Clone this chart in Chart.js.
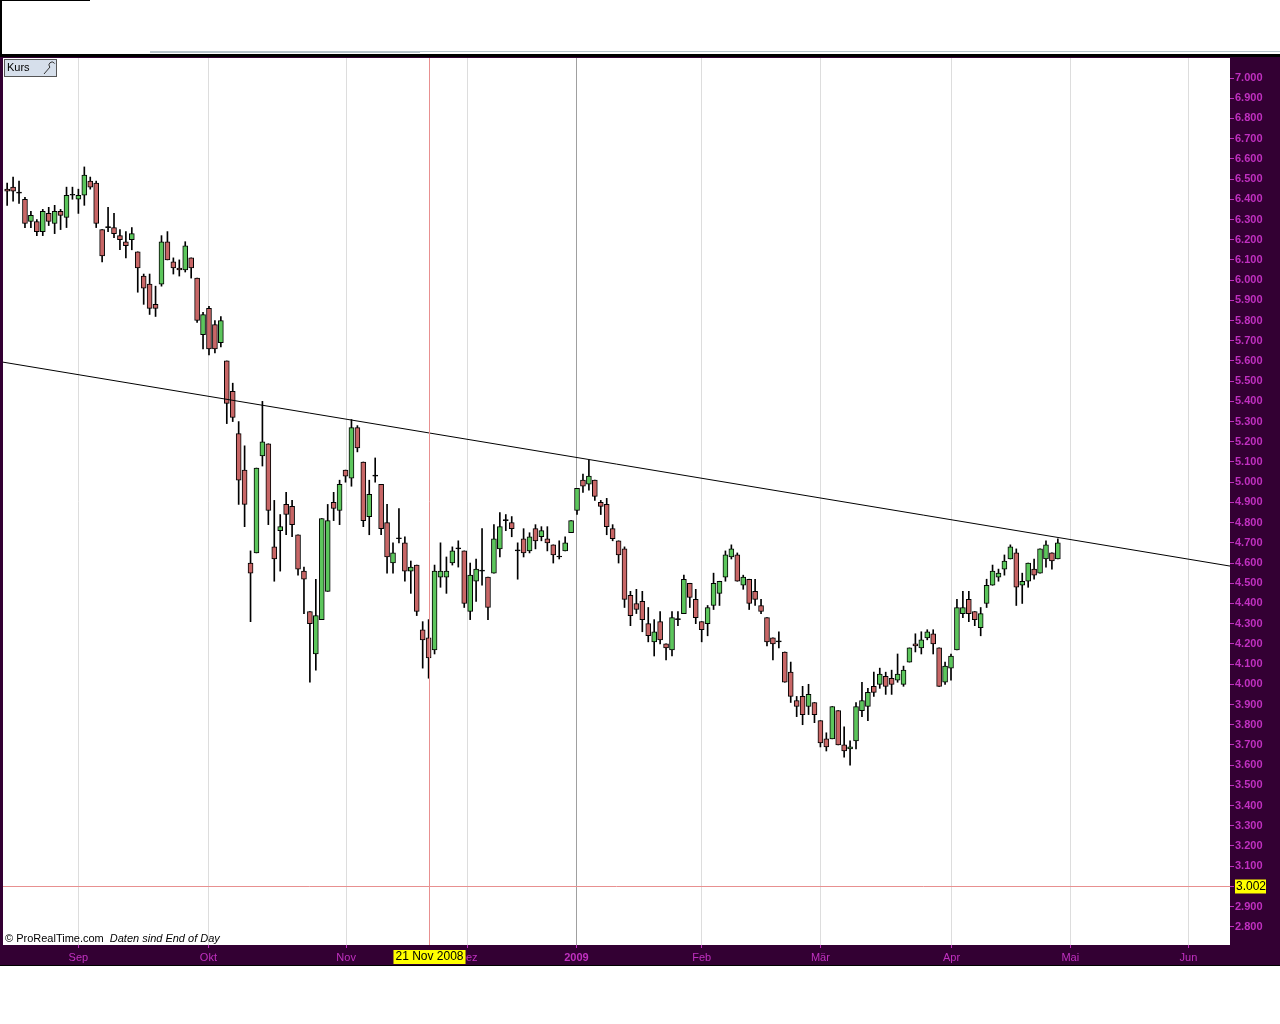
<!DOCTYPE html>
<html lang="de">
<head>
  <meta charset="UTF-8" />
  <title>Kurs</title>
  <script src="https://cdn.jsdelivr.net/npm/chart.js"></script>
  <style>
    html, body { margin: 0; padding: 0; background: #fff; }
    #wrap { position: relative; width: 1280px; height: 1024px; }
    canvas { display: block; }
  </style>
</head>
<body>
  <div id="wrap"><canvas id="kursChart" width="1280" height="1024"></canvas></div>

  <script>
    // daily OHLC (Sep 2008 - Apr 2009)
    const opens = [6.45,6.46,6.43,6.40,6.29,6.29,6.24,6.33,6.28,6.34,6.31,6.42,6.40,6.42,6.49,6.48,6.25,6.26,6.26,6.22,
      6.19,6.20,6.14,6.02,5.98,5.88,5.98,6.19,6.09,6.06,6.05,6.11,6.01,5.73,5.86,5.78,5.69,5.60,5.45,5.24,
      5.06,4.60,4.65,5.13,5.19,4.68,4.76,4.89,4.88,4.74,4.56,4.36,4.15,4.32,4.46,4.90,4.86,5.06,5.02,5.27,
      5.10,4.83,5.03,4.99,4.80,4.60,4.72,4.70,4.56,4.59,4.27,4.23,4.17,4.53,4.53,4.60,4.67,4.66,4.36,4.51,
      4.56,4.53,4.55,4.67,4.81,4.80,4.66,4.72,4.66,4.77,4.73,4.72,4.69,4.63,4.66,4.75,4.86,5.01,4.99,5.01,
      4.90,4.89,4.77,4.71,4.67,4.44,4.40,4.41,4.30,4.21,4.31,4.20,4.17,4.32,4.35,4.50,4.42,4.31,4.30,4.39,
      4.45,4.53,4.63,4.64,4.49,4.52,4.46,4.39,4.33,4.23,4.21,4.16,4.06,3.92,3.94,3.89,3.91,3.82,3.73,3.73,
      3.87,3.70,3.68,3.72,3.87,3.89,3.99,4.00,4.04,4.03,4.02,4.00,4.11,4.20,4.18,4.23,4.25,4.18,4.01,4.08,
      4.17,4.35,4.42,4.36,4.28,4.40,4.49,4.53,4.57,4.62,4.65,4.49,4.51,4.57,4.55,4.62,4.65,4.62];
    const highs = [6.48,6.51,6.49,6.41,6.34,6.30,6.35,6.36,6.37,6.35,6.46,6.46,6.45,6.56,6.51,6.49,6.25,6.36,6.33,6.25,
      6.24,6.26,6.14,6.03,6.03,5.97,6.22,6.24,6.11,6.10,6.19,6.11,6.01,5.84,5.87,5.80,5.82,5.60,5.49,5.30,
      5.18,4.66,5.07,5.40,5.19,4.91,4.84,4.95,4.91,4.74,4.58,4.36,4.52,4.82,4.89,4.95,5.01,5.06,5.31,5.28,
      5.10,5.01,5.12,4.99,4.89,4.70,4.87,4.73,4.61,4.59,4.31,4.32,4.59,4.70,4.63,4.68,4.71,4.66,4.60,4.62,
      4.77,4.53,4.79,4.85,4.84,4.83,4.70,4.77,4.75,4.79,4.78,4.78,4.69,4.71,4.73,4.81,4.97,5.04,5.11,5.01,
      4.91,4.92,4.79,4.71,4.68,4.46,4.47,4.46,4.38,4.32,4.36,4.20,4.36,4.36,4.54,4.50,4.47,4.31,4.39,4.55,
      4.51,4.66,4.69,4.65,4.54,4.52,4.52,4.42,4.33,4.23,4.26,4.16,4.11,3.94,3.99,4.00,3.91,3.82,3.76,3.89,
      3.87,3.79,3.72,3.91,4.01,3.98,4.06,4.08,4.06,4.07,4.15,4.09,4.18,4.25,4.26,4.27,4.27,4.18,4.11,4.15,
      4.42,4.46,4.46,4.36,4.38,4.52,4.59,4.57,4.64,4.69,4.67,4.55,4.60,4.62,4.67,4.71,4.65,4.72];
    const lows = [6.37,6.39,6.38,6.26,6.26,6.22,6.22,6.27,6.23,6.25,6.26,6.40,6.33,6.37,6.45,6.26,6.09,6.24,6.21,6.15,
      6.11,6.15,5.94,5.88,5.83,5.82,5.97,6.10,6.03,6.02,6.04,6.01,5.79,5.66,5.63,5.64,5.67,5.29,5.30,4.89,
      4.78,4.31,4.65,5.08,4.79,4.51,4.56,4.74,4.73,4.54,4.35,4.01,4.07,4.32,4.46,4.81,4.79,5.00,4.98,5.15,
      4.78,4.74,5.00,4.74,4.55,4.55,4.70,4.51,4.45,4.34,4.08,4.03,4.15,4.48,4.45,4.59,4.58,4.38,4.32,4.41,
      4.49,4.32,4.55,4.63,4.76,4.73,4.52,4.63,4.65,4.67,4.71,4.66,4.60,4.62,4.66,4.75,4.84,4.95,4.96,4.91,
      4.84,4.74,4.71,4.60,4.38,4.29,4.35,4.26,4.21,4.14,4.20,4.12,4.14,4.29,4.35,4.38,4.30,4.21,4.24,4.37,
      4.39,4.51,4.62,4.51,4.47,4.37,4.39,4.35,4.19,4.12,4.18,4.01,3.91,3.84,3.80,3.85,3.81,3.69,3.67,3.73,
      3.70,3.64,3.60,3.68,3.84,3.82,3.94,3.98,3.95,3.95,4.01,3.99,4.11,4.16,4.15,4.22,4.15,3.99,4.00,4.02,
      4.17,4.33,4.31,4.29,4.24,4.38,4.49,4.51,4.54,4.62,4.39,4.40,4.48,4.52,4.55,4.58,4.57,4.62];
    const closes = [6.44,6.44,6.43,6.28,6.32,6.24,6.34,6.29,6.34,6.32,6.42,6.42,6.42,6.52,6.46,6.28,6.12,6.26,6.23,6.20,
      6.17,6.23,6.06,5.96,5.86,5.86,6.19,6.10,6.06,6.05,6.17,6.06,5.80,5.83,5.66,5.66,5.80,5.39,5.32,5.01,
      4.89,4.55,5.07,5.20,4.86,4.62,4.78,4.84,4.79,4.57,4.52,4.30,4.34,4.82,4.81,4.87,4.99,5.03,5.27,5.17,
      4.81,4.94,5.03,4.77,4.63,4.65,4.72,4.56,4.58,4.36,4.22,4.13,4.56,4.56,4.56,4.66,4.67,4.40,4.54,4.57,
      4.56,4.38,4.72,4.78,4.81,4.77,4.66,4.65,4.73,4.71,4.76,4.70,4.64,4.63,4.70,4.81,4.97,4.98,5.03,4.93,
      4.88,4.78,4.72,4.64,4.42,4.34,4.37,4.32,4.24,4.26,4.22,4.18,4.33,4.32,4.52,4.43,4.33,4.27,4.38,4.50,
      4.51,4.64,4.67,4.51,4.53,4.40,4.42,4.36,4.21,4.20,4.21,4.01,3.94,3.89,3.85,3.95,3.85,3.71,3.69,3.89,
      3.70,3.67,3.69,3.89,3.92,3.96,3.96,4.05,3.99,4.00,4.05,4.07,4.18,4.19,4.22,4.26,4.20,3.99,4.09,4.14,
      4.38,4.38,4.35,4.32,4.35,4.49,4.56,4.55,4.61,4.68,4.48,4.51,4.60,4.54,4.67,4.69,4.61,4.70];

    // month ticks (position in trading-day index)
    const monthPos = [12.0, 33.9, 57.1, 77.6, 95.9, 117.0, 137.0, 159.1, 179.1, 199.0];
    const monthLabels = ["Sep", "Okt", "Nov", "Dez", "2009", "Feb", "Mär", "Apr", "Mai", "Jun"];
    const priceTicks = [2.8,2.9,3.0,3.1,3.2,3.3,3.4,3.5,3.6,3.7,3.8,3.9,4.0,4.1,4.2,4.3,4.4,4.5,4.6,4.7,
      4.8,4.9,5.0,5.1,5.2,5.3,5.4,5.5,5.6,5.7,5.8,5.9,6.0,6.1,6.2,6.3,6.4,6.5,6.6,6.7,6.8,6.9,7.0];

    // resistance line end points and markers
    const trendX = [-0.7, 206];
    const trendY = [5.594, 4.585];
    const cursorIndex = 71;
    const cursorLabel = "21 Nov 2008";
    const lastLevel = 3.002;

    const X_MIN = -0.7, X_MAX = 206, Y_MIN = 2.71, Y_MAX = 7.099;
    const PURPLE = "#330033", MAGENTA = "#c030c0";

    const bodies = opens.map((o, i) => ({ x: i, y: [o, closes[i]] }));
    const wicks = opens.map((o, i) => ({ x: i, y: [lows[i], highs[i]] }));
    const bodyColors = opens.map((o, i) => closes[i] > o ? "#5cc65c" : (closes[i] < o ? "#c86666" : "#000"));

    const frame = {
      id: "frame",
      beforeDraw(chart) {
        const c = chart.ctx, a = chart.chartArea;
        c.save();
        c.fillStyle = "#fff";
        c.fillRect(0, 0, 1280, 1024);
        // top panel borders
        c.fillStyle = "#000";
        c.fillRect(0, 0, 90, 1);
        c.fillRect(0, 0, 2, 56);
        c.fillRect(0, 54, 1280, 3);
        c.fillStyle = "#b8c4cc";
        c.fillRect(150, 51, 270, 2);
        c.fillRect(420, 51, 860, 1);
        // dark purple frame around the plot
        c.fillStyle = PURPLE;
        c.fillRect(0, a.top - 1, 1280, 1);
        c.fillRect(0, a.top, a.left, a.bottom - a.top);
        c.fillRect(a.right, a.top, 1280 - a.right, a.bottom - a.top);
        c.fillRect(0, a.bottom, 1280, 20);
        c.fillStyle = "#000";
        c.fillRect(0, a.bottom + 20, 1280, 1);
        c.restore();
      },
      afterDatasetsDraw(chart) {
        const c = chart.ctx, a = chart.chartArea;
        const xs = chart.scales.x, ys = chart.scales.y;
        c.save();
        // cursor lines
        c.strokeStyle = "#e89090";
        c.lineWidth = 1;
        const cx = Math.round(xs.getPixelForValue(cursorIndex)) + 0.5;
        c.beginPath(); c.moveTo(cx, a.top); c.lineTo(cx, a.bottom); c.stroke();
        const ly = Math.round(ys.getPixelForValue(lastLevel)) + 0.5;
        c.beginPath(); c.moveTo(a.left, ly); c.lineTo(a.right, ly); c.stroke();
        // yellow value boxes
        c.font = "12px Arial";
        c.textBaseline = "middle";
        c.fillStyle = "#ffff00";
        c.fillRect(a.right + 5, ly - 7, 31, 14);
        c.fillStyle = "#000";
        c.fillText(lastLevel.toFixed(3), a.right + 6, ly);
        const w = c.measureText(cursorLabel).width + 4;
        c.fillStyle = "#ffff00";
        c.fillRect(cx - w / 2, a.bottom + 5, w, 14);
        c.fillStyle = "#000";
        c.fillText(cursorLabel, cx - w / 2 + 2, a.bottom + 12);
        // legend box
        c.fillStyle = "#d6dfeb";
        c.fillRect(a.left + 1, a.top + 1, 53, 18);
        c.strokeStyle = "#555";
        c.strokeRect(a.left + 1.5, a.top + 1.5, 52, 17);
        c.fillStyle = "#000";
        c.font = "11px Arial";
        c.fillText("Kurs", a.left + 4, a.top + 10);
        c.strokeStyle = "#333";
        c.beginPath();
        c.moveTo(a.left + 41, a.top + 16); c.lineTo(a.left + 47, a.top + 9);
        c.arc(a.left + 49, a.top + 7, 3, 2.4, 5.8);
        c.stroke();
        // source note
        c.font = "11px Arial";
        const src = "© ProRealTime.com";
        c.fillText(src, a.left + 2, a.bottom - 6);
        const sw = c.measureText(src).width;
        c.font = "italic 11px Arial";
        c.fillText("Daten sind End of Day", a.left + 2 + sw + 6, a.bottom - 6);
        c.restore();
      }
    };

    new Chart(document.getElementById("kursChart"), {
      type: "bar",
      data: {
        datasets: [
          {
            type: "line",
            data: trendX.map((x, i) => ({ x, y: trendY[i] })),
            borderColor: "#000",
            borderWidth: 1,
            pointRadius: 0,
            order: 0
          },
          {
            data: bodies,
            backgroundColor: bodyColors,
            borderColor: "#000",
            borderWidth: 1,
            borderSkipped: false,
            barThickness: 5,
            minBarLength: 1,
            grouped: false,
            order: 1
          },
          {
            data: wicks,
            backgroundColor: "#000",
            borderWidth: 0,
            barThickness: 1,
            grouped: false,
            order: 2
          }
        ]
      },
      options: {
        responsive: false,
        animation: false,
        events: [],
        layout: { padding: { left: 3, top: 58, right: 0, bottom: 59 } },
        plugins: { legend: { display: false }, tooltip: { enabled: false } },
        scales: {
          x: {
            type: "linear",
            offset: false,
            min: X_MIN,
            max: X_MAX,
            afterBuildTicks: (s) => { s.ticks = monthPos.map(v => ({ value: v })); },
            afterFit: (s) => { s.height = 20; },
            ticks: {
              autoSkip: false,
              maxRotation: 0,
              padding: 3,
              color: MAGENTA,
              font: (ctx) => ({ family: "Arial", size: 11, weight: ctx.index === 4 ? "bold" : "normal" }),
              callback: (v, i) => monthLabels[i]
            },
            grid: {
              offset: false,
              color: (ctx) => ctx.index === 4 ? "#a0a0a0" : "#dddddd",
              tickColor: MAGENTA,
              tickLength: 3
            },
            border: { display: false }
          },
          y: {
            position: "right",
            min: Y_MIN,
            max: Y_MAX,
            afterBuildTicks: (s) => { s.ticks = priceTicks.map(v => ({ value: v })); },
            afterFit: (s) => { s.width = 50; },
            ticks: {
              autoSkip: false,
              padding: 1,
              color: MAGENTA,
              font: { family: "Arial", size: 11, weight: "bold" },
              callback: (v) => v.toFixed(3)
            },
            grid: { drawOnChartArea: false, tickColor: MAGENTA, tickLength: 4 },
            border: { display: false }
          }
        }
      },
      plugins: [frame]
    });
  </script>
</body>
</html>
